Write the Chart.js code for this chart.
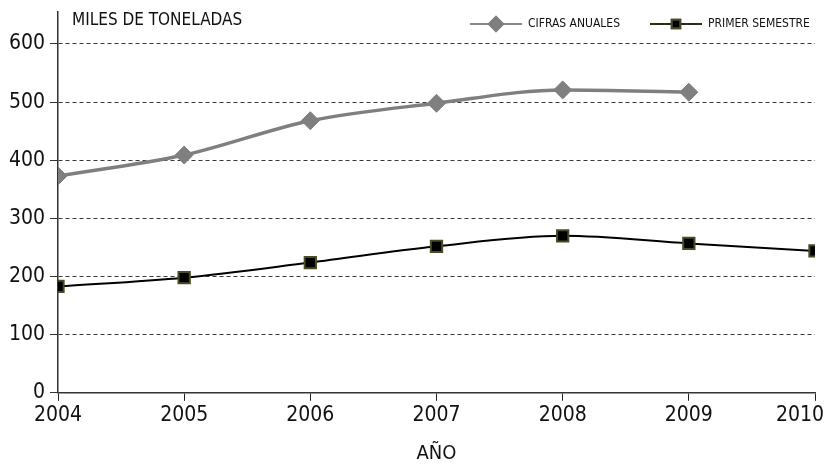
<!DOCTYPE html>
<html>
<head>
<meta charset="utf-8">
<script src="https://cdn.jsdelivr.net/npm/chart.js@4/dist/chart.umd.min.js"></script>
<style>
  html, body { margin: 0; padding: 0; background: #fff; }
  #wrap { width: 828px; height: 466px; position: relative; }
</style>
</head>
<body>
<div id="wrap"><canvas id="chart"></canvas></div>
<script>
// datos
const years = [2004, 2005, 2006, 2007, 2008, 2009, 2010];
const cifrasAnuales = [373, 409, 468, 498, 521, 517];
const primerSemestre = [183, 198, 224, 252, 270, 257, 244];
const yTicks = [0, 100, 200, 300, 400, 500, 600];

const FONT = "'Liberation Sans Narrow', 'DejaVu Sans Condensed', Roboto, sans-serif";

function toPoints(values) {
    return values.map((v, i) => ({ x: years[i], y: v }));
}

// titulo del eje y y leyenda dibujados a mano (linea + marcador)
const extras = {
    id: 'extras',
    afterDraw(chart) {
        const ctx = chart.ctx;
        ctx.save();
        ctx.fillStyle = '#111';
        ctx.textBaseline = 'middle';
        ctx.font = '17px ' + FONT;
        ctx.textAlign = 'left';
        ctx.fillText('MILES DE TONELADAS', 72, 21);

        const items = [
            { ds: chart.data.datasets[0], x: 470 },
            { ds: chart.data.datasets[1], x: 650 }
        ];
        items.forEach(it => {
            const y = 24;
            ctx.strokeStyle = it.ds.legendLine;
            ctx.lineWidth = 2;
            ctx.beginPath();
            ctx.moveTo(it.x, y);
            ctx.lineTo(it.x + 52, y);
            ctx.stroke();
            Chart.helpers.drawPoint(ctx, {
                pointStyle: it.ds.pointStyle,
                radius: it.ds.pointStyle === 'rect' ? 6 : 7,
                borderWidth: it.ds.pointBorderWidth
            }, it.x + 26, y);
            ctx.fillStyle = it.ds.pointBackgroundColor;
            ctx.strokeStyle = it.ds.pointBorderColor;
            ctx.fill();
            ctx.stroke();
            ctx.fillStyle = '#111';
            ctx.font = '12px ' + FONT;
            ctx.fillText(it.ds.label, it.x + 58, y);
        });
        ctx.restore();
    }
};

new Chart(document.getElementById('chart'), {
    type: 'line',
    data: {
        datasets: [
            {
                label: 'CIFRAS ANUALES',
                data: toPoints(cifrasAnuales),
                borderColor: '#7f7f7f',
                borderWidth: 3.5,
                pointStyle: 'rectRot',
                pointRadius: 9,
                pointBackgroundColor: '#7f7f7f',
                pointBorderColor: '#7f7f7f',
                pointBorderWidth: 1,
                legendLine: '#8a8a8a',
                cubicInterpolationMode: 'monotone'
            },
            {
                label: 'PRIMER SEMESTRE',
                data: toPoints(primerSemestre),
                borderColor: '#000',
                borderWidth: 2,
                pointStyle: 'rect',
                pointRadius: 8,
                pointBackgroundColor: '#000',
                pointBorderColor: '#4b4b28',
                pointBorderWidth: 2,
                legendLine: '#2e2e14',
                cubicInterpolationMode: 'monotone'
            }
        ]
    },
    options: {
        responsive: true,
        maintainAspectRatio: false,
        animation: false,
        layout: { padding: { top: 12, right: 0, left: 0, bottom: 0 } },
        plugins: { legend: { display: false }, tooltip: { enabled: false } },
        scales: {
            x: {
                type: 'linear',
                min: 2004,
                max: 2010,
                afterBuildTicks: axis => { axis.ticks = years.map(v => ({ value: v })); },
                afterFit: axis => { axis.paddingRight = 13; },
                ticks: {
                    color: '#111',
                    font: { family: FONT, size: 21 },
                    padding: 2,
                    maxRotation: 0,
                    // la ultima etiqueta queda pegada al borde, como en el original
                    callback: v => v === years[years.length - 1] ? String(v) + '     ' : String(v)
                },
                grid: { drawOnChartArea: false, drawTicks: true, tickLength: 8, color: '#222' },
                border: { display: true, color: '#333', width: 1.5 },
                title: {
                    display: true,
                    text: 'AÑO',
                    color: '#111',
                    font: { family: FONT, size: 20 },
                    padding: { top: 12, bottom: 0 }
                }
            },
            y: {
                min: 0,
                max: 655,
                afterBuildTicks: axis => { axis.ticks = yTicks.map(v => ({ value: v })); },
                afterFit: axis => { axis.width = 58; axis.paddingTop = 0; },
                ticks: {
                    color: '#111',
                    font: { family: FONT, size: 21 },
                    padding: 5
                },
                grid: { color: '#3a3a3a', lineWidth: 1, tickLength: 8, tickColor: '#333', tickBorderDash: [] },
                border: { display: true, color: '#333', width: 1.5, dash: [4, 3] }
            }
        }
    },
    plugins: [extras]
});
</script>
</body>
</html>
